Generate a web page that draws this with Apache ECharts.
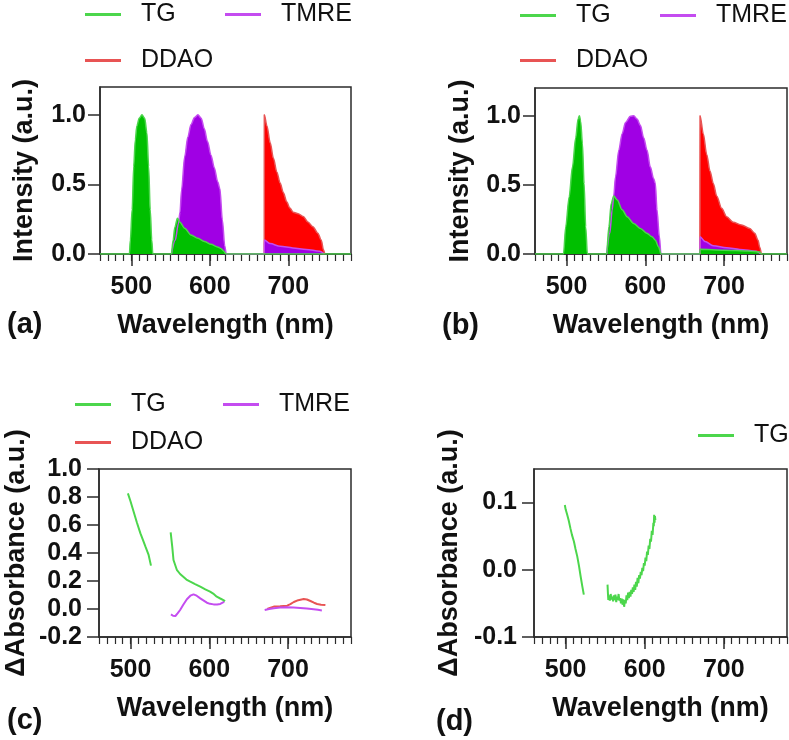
<!DOCTYPE html>
<html>
<head>
<meta charset="utf-8">
<script src="https://cdn.jsdelivr.net/npm/echarts@6/dist/echarts.min.js"></script>
<style>
  html, body { margin: 0; padding: 0; background: #fff; }
  #chart { width: 789px; height: 740px; }
</style>
</head>
<body>
<div id="chart"></div>
<script>
// wavelength axis
const wlMin = 460
const wlMax = 780
const wlTicks = [500, 600, 700]
const intensityTicks = [0, 0.5, 1.0]
const absTicksC = [-0.2, 0, 0.2, 0.4, 0.6, 0.8, 1.0]
const absTicksD = [-0.1, 0, 0.1]

// (a) emission spectra, [nm, intensity]
const aTG = [[460, 0], [497.5, 0], [498.7, 0.1], [501, 0.32], [503, 0.63], [505, 0.82], [507, 0.92], [510, 0.976], [513.5, 1.0], [517, 0.976], [519.8, 0.87], [522, 0.63], [524, 0.32], [526, 0.1], [527.3, 0], [551, 0], [553.3, 0.1], [555.3, 0.19], [558.7, 0.257], [561.7, 0.23], [568, 0.185], [576, 0.137], [584.8, 0.113], [593, 0.09], [601.5, 0.07], [610, 0.05], [614, 0.04], [618, 0.02], [620.4, 0], [780, 0]]
const aTMRE = [[551, 0], [556, 0.1], [560, 0.22], [562, 0.3], [564, 0.46], [568, 0.70], [572, 0.84], [576, 0.93], [580.5, 0.98], [584.8, 1.0], [589, 0.976], [593, 0.90], [597, 0.81], [601.5, 0.71], [605.7, 0.62], [610, 0.52], [612.8, 0.47], [616, 0.245], [619, 0.06], [621, 0], [669.4, 0], [669.5, 0.1], [677, 0.075], [689.6, 0.055], [706, 0.044], [723, 0.033], [740, 0.02], [746, 0]]
const aDDAO = [[669.4, 0], [669.5, 1.0], [672.8, 0.92], [677, 0.80], [681, 0.69], [685.4, 0.59], [689.6, 0.51], [693.8, 0.44], [698, 0.376], [702, 0.33], [706.3, 0.30], [712.6, 0.29], [719, 0.27], [725, 0.23], [731.4, 0.196], [737.7, 0.15], [742, 0.1], [744.9, 0.03], [746.5, 0]]

// (b) emission spectra
const bTG = [[460, 0], [496.2, 0], [499, 0.196], [503.3, 0.41], [507.6, 0.63], [511.7, 0.84], [514.7, 0.976], [516.4, 1.0], [518, 0.96], [520.2, 0.80], [522.3, 0.51], [524.4, 0.196], [526.5, 0], [550.9, 0], [553.8, 0.196], [556.8, 0.365], [560, 0.42], [564.4, 0.39], [570.7, 0.32], [577, 0.27], [585.4, 0.22], [593.8, 0.185], [602, 0.15], [608.6, 0.125], [612.8, 0.10], [617, 0.05], [620, 0], [669.5, 0], [669.6, 0.034], [700, 0.028], [730, 0.022], [745, 0.015], [747.4, 0], [780, 0]]
const bTMRE = [[551, 0], [555, 0.15], [558, 0.32], [560, 0.42], [562.2, 0.556], [566.4, 0.75], [570.7, 0.87], [574.9, 0.95], [581.2, 0.995], [585.4, 1.0], [589.6, 0.976], [593.8, 0.93], [598, 0.84], [602.3, 0.75], [606.4, 0.63], [610.6, 0.545], [612.8, 0.51], [614.9, 0.32], [617.8, 0.13], [620, 0], [669.5, 0], [669.6, 0.125], [675.9, 0.09], [686.4, 0.06], [703.3, 0.045], [720, 0.033], [741, 0.02], [747, 0]]
const bDDAO = [[669.5, 0], [669.6, 1.0], [673.7, 0.87], [678, 0.72], [682.2, 0.60], [686.4, 0.51], [690.7, 0.42], [697, 0.33], [703.3, 0.27], [711.6, 0.23], [722.2, 0.21], [732.7, 0.185], [739, 0.15], [743.2, 0.1], [745.3, 0.05], [747.4, 0]]

// (c) difference absorbance, null = gap
const cTG = [[496.7, 0.826], [500, 0.77], [504, 0.695], [508, 0.62], [512.6, 0.54], [516, 0.49], [519, 0.445], [523, 0.386], [526, 0.31], [538, null], [551, 0.548], [553, 0.445], [554.6, 0.35], [558.8, 0.28], [563, 0.25], [567, 0.23], [571, 0.21], [575.9, 0.195], [582, 0.178], [588.6, 0.16], [595, 0.14], [601, 0.124], [605, 0.11], [609.5, 0.088], [614, 0.075], [618, 0.064], [620, 0.055]]
const cTMRE = [[551.4, -0.038], [554, -0.048], [557, -0.05], [560, -0.03], [563, -0.007], [567, 0.03], [571.6, 0.07], [576, 0.095], [580, 0.105], [584, 0.095], [588.6, 0.076], [593, 0.06], [597, 0.045], [601, 0.037], [605.5, 0.033], [610, 0.032], [614, 0.036], [617, 0.045], [619, 0.052], [645, null], [670.4, -0.007], [676, 0], [682, 0.005], [690, 0.01], [699, 0.012], [707, 0.01], [715.6, 0.007], [724, 0.003], [732.5, -0.002], [738, -0.006], [743, -0.01]]
const cDDAO = [[673.7, 0.0], [678, 0.01], [682, 0.017], [690, 0.02], [699, 0.024], [703, 0.035], [707.4, 0.05], [713, 0.063], [720, 0.071], [724, 0.068], [728.5, 0.057], [733, 0.045], [737, 0.036], [742, 0.031], [747.5, 0.029]]

// (d) difference absorbance, TG only
const dTG = [[499, 0.0965], [500, 0.09], [502, 0.082], [504, 0.073], [506, 0.062], [508, 0.052], [510.5, 0.042], [512.5, 0.031], [514.7, 0.02], [517, 0.005], [519, -0.01], [521, -0.024], [523, -0.037], [538, null],
  [553, -0.022], [553.5, -0.035], [554, -0.045], [555, -0.038], [556, -0.046], [557, -0.036], [558, -0.044], [559, -0.04], [560, -0.047], [561, -0.038], [562, -0.045], [563, -0.037], [564, -0.048], [565, -0.04], [566, -0.045], [567, -0.036], [568, -0.046], [569, -0.042], [570, -0.05], [571, -0.043], [572, -0.052], [573, -0.044], [574, -0.055], [575, -0.045], [576, -0.05], [577, -0.038], [578, -0.045], [579, -0.034], [580, -0.042], [581, -0.033], [582, -0.04], [583, -0.03], [584, -0.036], [585, -0.026], [586, -0.033], [587, -0.022], [588, -0.03], [589, -0.018], [590, -0.025], [591, -0.012], [592, -0.02], [593, -0.008], [594, -0.013], [595, -0.003], [596, -0.008], [597, 0.003], [598, -0.002], [599, 0.01], [600, 0.006], [601, 0.018], [602, 0.013], [603, 0.027], [604, 0.022], [605, 0.036], [606, 0.031], [607, 0.046], [608, 0.042], [609, 0.058], [610, 0.052], [611, 0.07], [611.5, 0.065], [612, 0.082], [612.5, 0.07], [613, 0.08], [613.5, 0.074]]

const FONT = "'Liberation Sans', Arial, sans-serif"
const AXIS = '#2b2b2b'
const TEXT = '#111'
const FILL = { TG: '#00bf00', TMRE: '#a000e4', DDAO: '#ff0000' }
const LINE = { TG: '#4cd64c', TMRE: '#c44cf0', DDAO: '#e85454' }

const grids = [
  { left: 100, top: 87, width: 251, height: 167 },
  { left: 535, top: 88, width: 252, height: 166 },
  { left: 99, top: 469, width: 252, height: 168 },
  { left: 534, top: 469, width: 253, height: 168 },
]

const tickFont = { fontFamily: FONT, fontSize: 25, fontWeight: 'bold', color: TEXT }
const titleFont = { fontFamily: FONT, fontSize: 27, fontWeight: 'bold', color: TEXT }

function xAxesFor(g) {
  const common = { type: 'value', gridIndex: g, min: wlMin, max: wlMax, position: 'bottom', splitLine: { show: false } }
  return [
    {
      ...common,
      axisLine: { onZero: false, lineStyle: { color: AXIS, width: 1.5 } },
      axisTick: { customValues: wlTicks, length: 12, lineStyle: { color: AXIS, width: 1.5 } },
      axisLabel: { customValues: wlTicks, margin: 21, ...tickFont },
      name: 'Wavelength (nm)', nameLocation: 'middle', nameGap: 58, nameTextStyle: titleFont,
    },
    {
      // minor ticks every 10 nm
      ...common,
      interval: 10,
      axisLine: { show: false, onZero: false },
      axisTick: { length: 7, lineStyle: { color: AXIS, width: 1.2 } },
      axisLabel: { show: false },
    },
  ]
}

function yAxisFor(g, min, max, ticks, name, gap, margin) {
  return {
    type: 'value', gridIndex: g, min, max,
    axisLine: { show: true, onZero: false, lineStyle: { color: AXIS, width: 1.5 } },
    axisTick: { show: true, customValues: ticks, length: 12, lineStyle: { color: AXIS, width: 1.5 } },
    axisLabel: { customValues: ticks, margin, formatter: (v) => v.toFixed(1), ...tickFont },
    splitLine: { show: false },
    name, nameLocation: 'middle', nameRotate: 90, nameGap: gap, nameTextStyle: titleFont,
  }
}

function areaSeries(g, name, data) {
  return {
    type: 'line', name, data, xAxisIndex: 2 * g, yAxisIndex: g,
    color: LINE[name], symbol: 'none', smooth: 0.3, smoothMonotone: 'x',
    lineStyle: { color: LINE[name], width: 1.5 },
    areaStyle: { color: FILL[name], opacity: 1 },
  }
}

function lineSeries(g, name, data) {
  return {
    type: 'line', name, data, xAxisIndex: 2 * g, yAxisIndex: g,
    color: LINE[name], symbol: 'none', connectNulls: false,
    lineStyle: { color: LINE[name], width: 2 },
  }
}

function legendAt(name, x, y) {
  return {
    left: x, top: y - 15, selectedMode: false,
    itemWidth: 36, itemHeight: 3,
    data: [{ name, icon: 'rect', itemStyle: { color: LINE[name] } }],
    textStyle: { fontFamily: FONT, fontSize: 25, color: TEXT, padding: [0, 0, 0, 15] },
  }
}

function panelLabel(text, x, y) {
  return { type: 'text', left: x, top: y, style: { text, font: 'bold 29px ' + FONT, fill: TEXT } }
}

const chart = echarts.init(document.getElementById('chart'), null, { renderer: 'canvas' })
chart.setOption({
  backgroundColor: '#fff',
  animation: false,
  grid: grids.map((r) => ({ ...r, show: true, borderColor: AXIS, borderWidth: 1.5, backgroundColor: 'transparent' })),
  xAxis: [0, 1, 2, 3].flatMap(xAxesFor),
  yAxis: [
    yAxisFor(0, 0, 1.2, intensityTicks, 'Intensity (a.u.)', 62, 14),
    yAxisFor(1, 0, 1.2, intensityTicks, 'Intensity (a.u.)', 61, 14),
    yAxisFor(2, -0.2, 1.0, absTicksC, 'ΔAbsorbance (a.u.)', 69, 17),
    yAxisFor(3, -0.1, 0.15, absTicksD, 'ΔAbsorbance (a.u.)', 71, 17),
  ],
  legend: [
    legendAt('TG', 80, 12), legendAt('TMRE', 220, 12), legendAt('DDAO', 80, 58),
    legendAt('TG', 515, 13), legendAt('TMRE', 655, 13), legendAt('DDAO', 515, 58),
    legendAt('TG', 70, 402), legendAt('TMRE', 218, 402), legendAt('DDAO', 70, 440),
    legendAt('TG', 693, 433),
  ],
  graphic: [
    panelLabel('(a)', 7, 310),
    panelLabel('(b)', 442, 311),
    panelLabel('(c)', 7, 706),
    panelLabel('(d)', 436, 707),
  ],
  series: [
    areaSeries(0, 'DDAO', aDDAO), areaSeries(0, 'TMRE', aTMRE), areaSeries(0, 'TG', aTG),
    areaSeries(1, 'DDAO', bDDAO), areaSeries(1, 'TMRE', bTMRE), areaSeries(1, 'TG', bTG),
    lineSeries(2, 'DDAO', cDDAO), lineSeries(2, 'TMRE', cTMRE), lineSeries(2, 'TG', cTG),
    lineSeries(3, 'TG', dTG),
  ],
})
</script>
</body>
</html>
